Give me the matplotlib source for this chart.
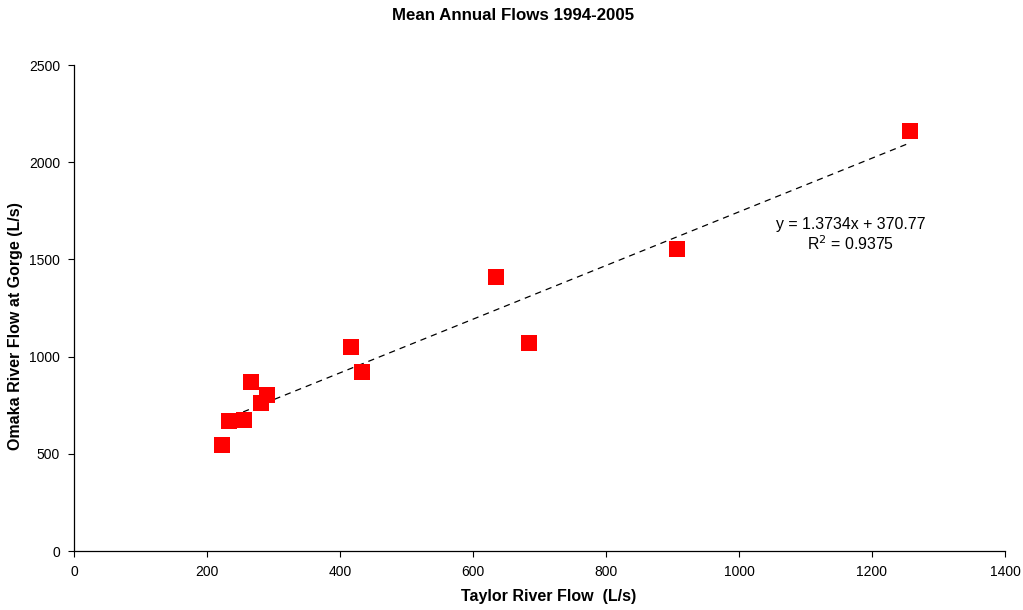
import numpy as np
import matplotlib.pyplot as plt

plt.rcParams['font.family'] = ['Liberation Sans', 'DejaVu Sans']

# mean annual flows (L/s)
taylor_flow = [223, 233, 256, 266, 290, 281, 417, 433, 635, 684, 907, 1257]
omaka_flow = [545, 669, 676, 872, 805, 759, 1049, 921, 1412, 1070, 1553, 2160]
x_ticks = [0, 200, 400, 600, 800, 1000, 1200, 1400]
y_ticks = [0, 500, 1000, 1500, 2000, 2500]

fig = plt.figure(figsize=(10.23, 6.10), dpi=100)
ax = fig.add_axes([0.0723, 0.0967, 0.9101, 0.7967])

ax.plot(taylor_flow, omaka_flow, linestyle='none', marker='s', ms=11.5,
        color='#ff0000', markeredgewidth=0, zorder=3)

# linear trendline
slope, intercept = np.polyfit(taylor_flow, omaka_flow, 1)
xs = np.array([min(taylor_flow), max(taylor_flow)])
ax.plot(xs, slope * xs + intercept, color='black', lw=0.9, dashes=(5, 4), zorder=2)

ax.text(1168, 1682, 'y = 1.3734x + 370.77', ha='center', va='center', fontsize=11.4)
ax.text(1168, 1579, r'R$^2$ = 0.9375', ha='center', va='center', fontsize=11.4)

ax.set_xlim(0, 1400)
ax.set_ylim(0, 2500)
ax.set_xticks(x_ticks)
ax.set_yticks(y_ticks)
ax.tick_params(direction='out', length=4, width=0.8, labelsize=10, pad=6)
for s in ['top', 'right']:
    ax.spines[s].set_visible(False)
for s in ['left', 'bottom']:
    ax.spines[s].set_linewidth(0.9)

ax.set_xlabel('Taylor River Flow  (L/s)', fontsize=11.5, fontweight='bold')
ax.set_ylabel('Omaka River Flow at Gorge (L/s)', fontsize=11.5, fontweight='bold')
ax.xaxis.set_label_coords(0.510, -0.078)
ax.yaxis.set_label_coords(-0.0548, 0.463)
fig.suptitle('Mean Annual Flows 1994-2005', fontsize=12.2, fontweight='bold', x=0.502, y=0.987)

fig.savefig('out.png', dpi=100)
